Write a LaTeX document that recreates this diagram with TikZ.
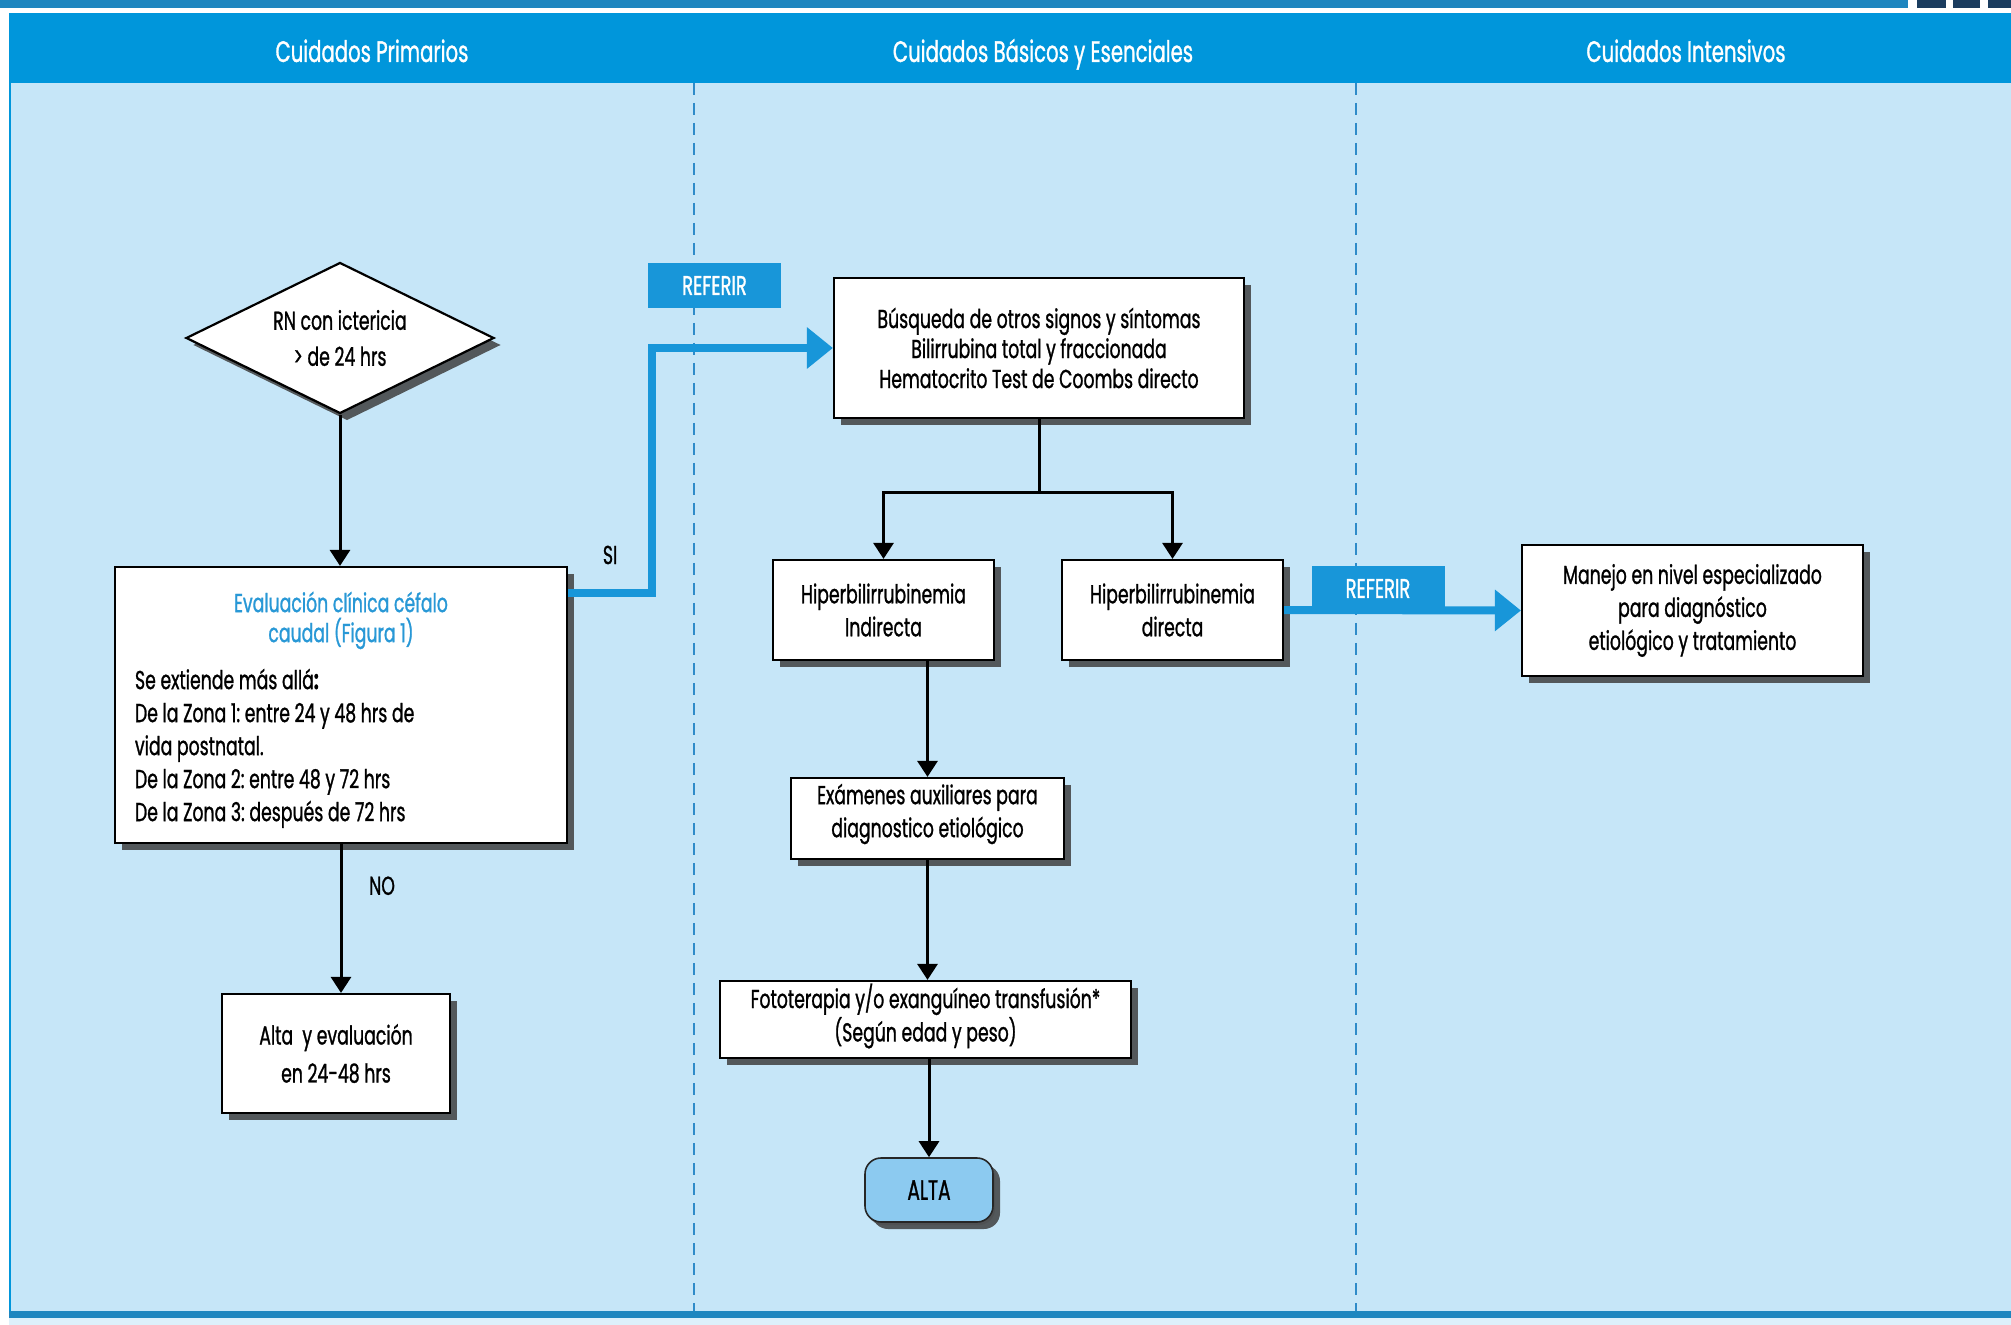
\documentclass[tikz,border=0pt]{standalone}
\usepackage{fontspec}
\setmainfont{Poppins}[FakeStretch=0.665, FakeBold=1]
\usetikzlibrary{shapes.geometric,arrows.meta,shadows}
\definecolor{headblue}{RGB}{0,150,219}
\definecolor{bodyblue}{RGB}{198,230,248}
\definecolor{linkblue}{RGB}{24,150,217}
\definecolor{titleblue}{RGB}{40,152,214}
\definecolor{altablue}{RGB}{140,202,240}
\definecolor{dashblue}{RGB}{46,139,201}
\definecolor{stripblue}{RGB}{30,134,191}
\definecolor{navy}{RGB}{27,61,95}

\begin{document}
\begin{tikzpicture}[x=0.5pt,y=-0.5pt,
    font=\fontsize{13}{16.5}\selectfont\frenchspacing,
    box/.style={draw=black, line width=1.1pt, fill=white, align=center, inner sep=4pt,
      drop shadow={shadow xshift=3.5pt, shadow yshift=-3.5pt, fill=black!75, opacity=0.85}},
    arr/.style={line width=1.5pt, -{Triangle[length=8pt,width=10pt]}},
    refer/.style={line width=4pt, draw=linkblue, -{Triangle[length=13pt,width=20pt]}},
    referbox/.style={fill=linkblue, text=white, minimum width=66.5pt, minimum height=22.5pt,
      inner sep=0pt, font=\fontsize{13.5}{14}\selectfont},
    head/.style={text=white, anchor=base, font=\fontsize{14.8}{16}\selectfont}]
  \useasboundingbox (0,0) rectangle (2011,1325);
  \fill[white] (0,0) rectangle (2011,1325);
  \fill[stripblue] (0,0) rectangle (1908,8);
  \foreach \x/\w in {1917/29,1953/27,1988/23} \fill[navy] (\x,0) rectangle ++(\w,8);
  \fill[headblue] (9,13) rectangle (2011,83);
  \fill[bodyblue] (9,83) rectangle (2011,1311);
  \draw[headblue, line width=1pt] (10,83) -- (10,1311);
  \fill[stripblue] (9,1311) rectangle (2011,1318);
  \fill[bodyblue!60] (9,1318) rectangle (2011,1325);
  \foreach \x in {694,1356}
    \draw[dashblue, line width=0.8pt, dash pattern=on 6pt off 4pt] (\x,83) -- (\x,1311);

  \node[head] (hprim) at (372,62) {Cuidados Primarios};
  \node[head] (hbasic) at (1043,62) {Cuidados Básicos y Esenciales};
  \node[head] (hint) at (1686,62) {Cuidados Intensivos};

  \node[box, diamond, aspect=2, minimum width=154pt, minimum height=75.5pt, inner sep=0pt,
    font=\fontsize{13}{18}\selectfont] (rn) at (340,338) {RN con ictericia\\> de 24 hrs};
  \node[box, minimum width=226pt, minimum height=138pt, text width=206pt, align=flush left]
    (eval) at (341,705) {\rule{0pt}{15pt}\textcolor{titleblue}{\makebox[\linewidth]{Evaluación clínica céfalo}}\\[-1.5pt]
      \textcolor{titleblue}{\makebox[\linewidth]{caudal (Figura 1)}}\\[7pt]
      Se extiende más allá\textbf{:}\\
      De la Zona 1: entre 24 y 48 hrs de\\
      vida postnatal.\\
      De la Zona 2: entre 48 y 72 hrs\\
      De la Zona 3: después de 72 hrs};
  \node[box, minimum width=114pt, minimum height=59.5pt, font=\fontsize{13}{19}\selectfont]
    (altaeval) at (336,1053.5) {Alta\ \ y evaluación\\en 24-48 hrs};

  \node[box, minimum width=205pt, minimum height=70pt, font=\fontsize{13}{15}\selectfont] (busq) at (1039,348)
    {Búsqueda de otros signos y síntomas\\Bilirrubina total y fraccionada\\Hematocrito Test de Coombs directo};
  \node[box, minimum width=110.5pt, minimum height=50pt] (indir) at (883.5,610) {Hiperbilirrubinemia\\Indirecta};
  \node[box, minimum width=110.5pt, minimum height=50pt] (direc) at (1172.5,610) {Hiperbilirrubinemia\\directa};
  \node[box, minimum width=136.5pt, minimum height=40.5pt, inner ysep=0pt, text depth=8pt] (exam) at (927.5,818.5)
    {Exámenes auxiliares para\\diagnostico etiológico};
  \node[box, minimum width=205.5pt, minimum height=38.5pt, inner ysep=0pt, text depth=7pt, font=\fontsize{13}{15}\selectfont]
    (foto) at (925.5,1019.5) {Fototerapia y/o exanguíneo transfusión*\\(Según edad y peso)};
  \node[box, draw=black!85, line width=0.8pt, rounded corners=8pt, fill=altablue, minimum width=64pt, minimum height=32pt,
    font=\fontsize{14}{15}\selectfont, drop shadow={shadow xshift=1pt, shadow yshift=-1.5pt, fill=black!70}]
    (alta) at (929,1190) {ALTA};
  \node[box, minimum width=170.5pt, minimum height=65.5pt] (manejo) at (1692.5,610.5)
    {Manejo en nivel especializado\\para diagnóstico\\etiológico y tratamiento};

  \node[referbox] (ref1) at (714.5,285.5) {REFERIR};
  \node[referbox] (ref2) at (1378,588.5) {REFERIR};

  \draw[arr] (rn.south) -- (rn.south |- eval.north);
  \draw[arr] (eval.south) -- (eval.south |- altaeval.north) node[pos=0.28, right=10pt, black] {NO};
  \draw[refer] ([yshift=-13.5pt]eval.north east) -- ++(84,0) node[midway, above=9pt, black] {SI} |- (busq.west);
  \draw[line width=1.5pt] (busq.south) -- ++(0,73) coordinate (split);
  \draw[arr] (split) -| (indir.north);
  \draw[arr] (split) -| (direc.north);
  \draw[arr] (exam.north |- indir.south) -- (exam.north);
  \draw[arr] (exam.south) -- (exam.south |- foto.north);
  \draw[arr] (foto.south -| alta.north) -- (alta.north);
  \draw[refer] (direc.east) -- (manejo.west);
\end{tikzpicture}
\end{document}
